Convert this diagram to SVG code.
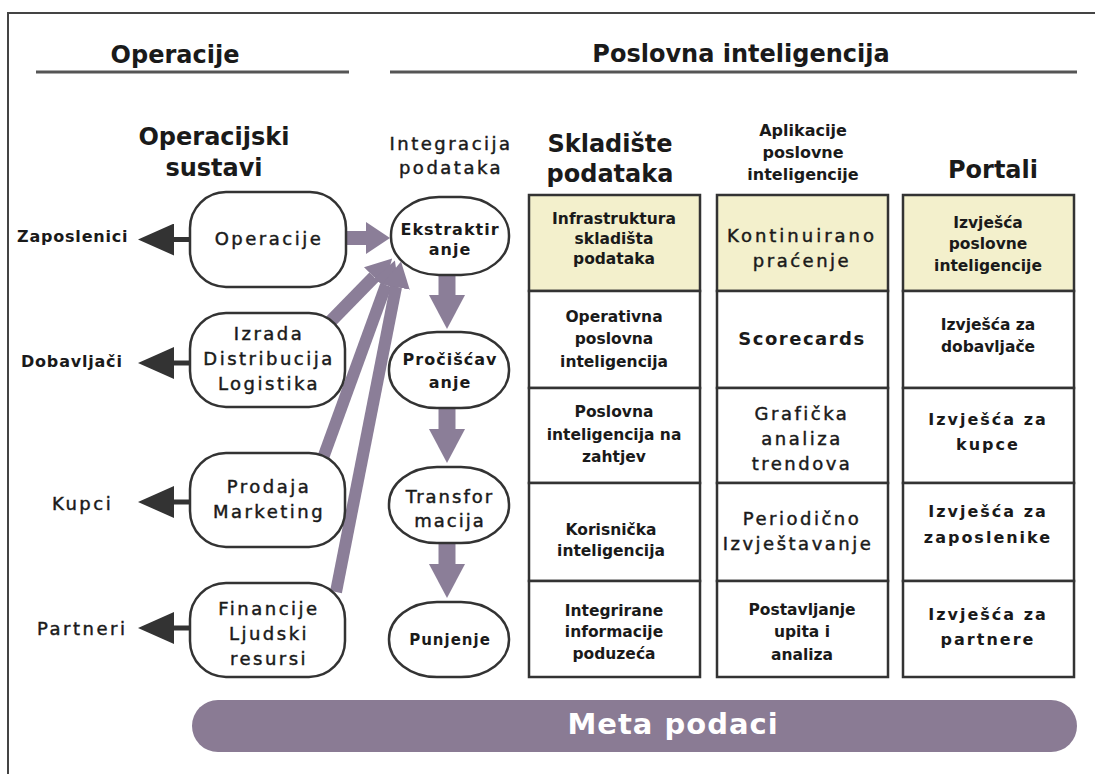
<svg xmlns="http://www.w3.org/2000/svg" width="1095" height="774" viewBox="0 0 1095 774">
<style>
text{font-family:"DejaVu Sans","Liberation Sans",sans-serif;fill:#1a1a1a}
.h{font-size:24px;font-weight:bold;text-anchor:middle}
.n{font-size:18px;letter-spacing:2.5px;text-anchor:middle;stroke:#1a1a1a;stroke-width:0.45px}
.m{font-size:16px;font-weight:bold;letter-spacing:1px;text-anchor:middle}
.c{font-size:15.5px;font-weight:bold;text-anchor:middle}
.w{font-size:16px;font-weight:bold;letter-spacing:2px;text-anchor:middle}
.a{font-size:16px;font-weight:bold;text-anchor:middle}
.lb{font-size:16px;font-weight:bold;letter-spacing:0.8px}
.ln{font-size:18px;letter-spacing:2.5px;stroke:#1a1a1a;stroke-width:0.45px}
.node{fill:#fff;stroke:#333;stroke-width:2.5}
.cell{stroke:#333;stroke-width:2.5}
.rule{stroke:#555;stroke-width:3}
.pa{stroke:#8b7e98;fill:none}
.da{stroke:#333;stroke-width:5}
</style>
<defs>
<marker id="ph" markerUnits="userSpaceOnUse" markerWidth="24" markerHeight="32" viewBox="0 0 24 32" refX="0" refY="16" orient="auto"><path d="M0,0 L24,16 L0,32 Z" fill="#8b7e98"/></marker>
<marker id="pd" markerUnits="userSpaceOnUse" markerWidth="34" markerHeight="36" viewBox="0 0 34 36" refX="0" refY="18" orient="auto"><path d="M0,0 L34,18 L0,36 Z" fill="#8b7e98"/></marker>
<marker id="pg" markerUnits="userSpaceOnUse" markerWidth="26" markerHeight="28" viewBox="0 0 26 28" refX="0" refY="14" orient="auto"><path d="M0,0 L26,14 L0,28 Z" fill="#8b7e98"/></marker>
<marker id="dh" markerUnits="userSpaceOnUse" markerWidth="36" markerHeight="32" viewBox="0 0 36 32" refX="0" refY="16" orient="auto"><path d="M0,0 L36,16 L0,32 Z" fill="#333"/></marker>
</defs>
<rect width="1095" height="774" fill="#fff"/>
<path d="M8,774 V13 H1095" fill="none" stroke="#444" stroke-width="2"/>

<g id="headers">
<line class="rule" x1="36" y1="72" x2="349" y2="72"/>
<line class="rule" x1="390" y1="72" x2="1077" y2="72"/>
<text class="h" x="175" y="63">Operacije</text>
<text class="h" x="741" y="62">Poslovna inteligencija</text>
<text class="h" x="214" y="145">Operacijski</text>
<text class="h" x="214" y="176">sustavi</text>
<text class="n" x="451" y="150">Integracija</text>
<text class="n" x="451" y="174">podataka</text>
<text class="h" x="610" y="152">Skladište</text>
<text class="h" x="610" y="182">podataka</text>
<text class="a" x="803" y="136">Aplikacije</text>
<text class="a" x="803" y="158">poslovne</text>
<text class="a" x="803" y="180">inteligencije</text>
<text class="h" x="993" y="178">Portali</text>
</g>

<g id="connectors">
<line class="da" x1="190" y1="239.5" x2="174" y2="239.5" marker-end="url(#dh)"/>
<line class="da" x1="190" y1="363" x2="174" y2="363" marker-end="url(#dh)"/>
<line class="da" x1="190" y1="502" x2="174" y2="502" marker-end="url(#dh)"/>
<line class="da" x1="190" y1="628" x2="174" y2="628" marker-end="url(#dh)"/>
<line class="pa" stroke-width="14" x1="344" y1="238" x2="366" y2="238" marker-end="url(#ph)"/>
<line class="pa" stroke-width="13" x1="330" y1="322" x2="374" y2="277" marker-end="url(#pg)"/>
<line class="pa" stroke-width="12" x1="323" y1="458" x2="386" y2="285" marker-end="url(#pg)"/>
<line class="pa" stroke-width="12" x1="336" y1="592" x2="396" y2="287" marker-end="url(#pg)"/>
<line class="pa" stroke-width="17" x1="447" y1="274" x2="447" y2="295" marker-end="url(#pd)"/>
<line class="pa" stroke-width="17" x1="447" y1="407" x2="447" y2="429" marker-end="url(#pd)"/>
<line class="pa" stroke-width="17" x1="447" y1="542" x2="447" y2="564" marker-end="url(#pd)"/>
</g>

<g id="zaposlenici"><text class="lb" x="17" y="242">Zaposlenici</text></g>
<g id="dobavljaci"><text class="lb" x="21" y="367">Dobavljači</text></g>
<g id="kupci"><text class="ln" x="52" y="510">Kupci</text></g>
<g id="partneri"><text class="ln" x="37" y="635">Partneri</text></g>

<g id="operacije">
<rect class="node" x="190" y="192" width="156" height="95" rx="36" ry="36"/>
<text class="n" x="269" y="245">Operacije</text>
</g>
<g id="izrada">
<rect class="node" x="190" y="313" width="155" height="94" rx="36" ry="36"/>
<text class="n" x="269" y="340">Izrada</text>
<text class="n" x="269" y="365">Distribucija</text>
<text class="n" x="269" y="390">Logistika</text>
</g>
<g id="prodaja">
<rect class="node" x="190" y="453" width="155" height="94" rx="36" ry="36"/>
<text class="n" x="269" y="493">Prodaja</text>
<text class="n" x="269" y="518">Marketing</text>
</g>
<g id="financije">
<rect class="node" x="190" y="583" width="155" height="94" rx="36" ry="36"/>
<text class="n" x="269" y="615">Financije</text>
<text class="n" x="269" y="640">Ljudski</text>
<text class="n" x="269" y="665">resursi</text>
</g>

<g id="ekstraktiranje">
<rect class="node" x="391" y="197" width="118" height="78" rx="48" ry="38"/>
<text class="m" x="450" y="235">Ekstraktir</text>
<text class="m" x="450" y="255">anje</text>
</g>
<g id="prociscavanje">
<rect class="node" x="389" y="332" width="120" height="76" rx="48" ry="37"/>
<text class="m" x="450" y="365">Pročišćav</text>
<text class="m" x="450" y="388">anje</text>
</g>
<g id="transformacija">
<rect class="node" x="389" y="467" width="120" height="76" rx="48" ry="37"/>
<text class="n" x="450" y="503" style="letter-spacing:2px">Transfor</text>
<text class="n" x="450" y="527" style="letter-spacing:2px">macija</text>
</g>
<g id="punjenje">
<rect class="node" x="389" y="602" width="120" height="75" rx="48" ry="37"/>
<text class="m" x="450" y="645" style="font-size:15px">Punjenje</text>
</g>

<g id="skladiste">
<rect class="cell" x="529" y="195" width="171" height="96" fill="#f3f0cc"/>
<rect class="cell" x="529" y="291" width="171" height="97" fill="#fff"/>
<rect class="cell" x="529" y="388" width="171" height="95" fill="#fff"/>
<rect class="cell" x="529" y="483" width="171" height="98" fill="#fff"/>
<rect class="cell" x="529" y="581" width="171" height="96" fill="#fff"/>
<text class="c" x="614" y="224">Infrastruktura</text>
<text class="c" x="614" y="244">skladišta</text>
<text class="c" x="614" y="264">podataka</text>
<text class="c" x="614" y="322">Operativna</text>
<text class="c" x="614" y="344">poslovna</text>
<text class="c" x="614" y="367">inteligencija</text>
<text class="c" x="614" y="417">Poslovna</text>
<text class="c" x="614" y="440">inteligencija na</text>
<text class="c" x="614" y="462">zahtjev</text>
<text class="c" x="611" y="535">Korisnička</text>
<text class="c" x="611" y="556">inteligencija</text>
<text class="c" x="614" y="616">Integrirane</text>
<text class="c" x="614" y="637">informacije</text>
<text class="c" x="614" y="659">poduzeća</text>
</g>

<g id="aplikacije">
<rect class="cell" x="717" y="195" width="171" height="96" fill="#f3f0cc"/>
<rect class="cell" x="717" y="291" width="171" height="97" fill="#fff"/>
<rect class="cell" x="717" y="388" width="171" height="95" fill="#fff"/>
<rect class="cell" x="717" y="483" width="171" height="98" fill="#fff"/>
<rect class="cell" x="717" y="581" width="171" height="96" fill="#fff"/>
<text class="n" x="802" y="242" style="letter-spacing:3px">Kontinuirano</text>
<text class="n" x="802" y="267">praćenje</text>
<text class="a" x="802" y="345" style="font-size:18px;letter-spacing:1.5px">Scorecards</text>
<text class="n" x="802" y="420">Grafička</text>
<text class="n" x="802" y="445">analiza</text>
<text class="n" x="802" y="470">trendova</text>
<text class="n" x="802" y="525">Periodično</text>
<text class="n" x="798" y="550">Izvještavanje</text>
<text class="c" x="802" y="615">Postavljanje</text>
<text class="c" x="802" y="637">upita i</text>
<text class="c" x="802" y="660">analiza</text>
</g>

<g id="portali">
<rect class="cell" x="903" y="195" width="171" height="96" fill="#f3f0cc"/>
<rect class="cell" x="903" y="291" width="171" height="97" fill="#fff"/>
<rect class="cell" x="903" y="388" width="171" height="95" fill="#fff"/>
<rect class="cell" x="903" y="483" width="171" height="98" fill="#fff"/>
<rect class="cell" x="903" y="581" width="171" height="96" fill="#fff"/>
<text class="c" x="988" y="228">Izvješća</text>
<text class="c" x="988" y="249">poslovne</text>
<text class="c" x="988" y="271">inteligencije</text>
<text class="c" x="988" y="330">Izvješća za</text>
<text class="c" x="988" y="352">dobavljače</text>
<text class="w" x="988" y="425">Izvješća za</text>
<text class="w" x="988" y="450">kupce</text>
<text class="w" x="988" y="517">Izvješća za</text>
<text class="w" x="988" y="543">zaposlenike</text>
<text class="w" x="988" y="620">Izvješća za</text>
<text class="w" x="988" y="645">partnere</text>
</g>

<g id="meta">
<rect x="192" y="700" width="885" height="52" rx="26" ry="26" fill="#8a7b94"/>
<text x="673" y="734" style="font-size:29px;font-weight:bold;letter-spacing:1px;text-anchor:middle;fill:#fff">Meta podaci</text>
</g>
</svg>
